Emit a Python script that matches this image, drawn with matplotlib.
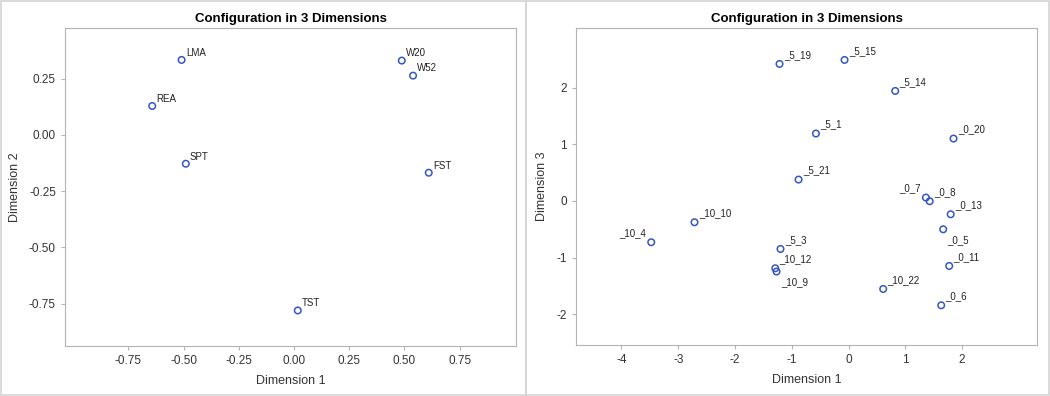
import matplotlib.pyplot as plt
from matplotlib.patches import Rectangle

# left panel: dimension 1 vs dimension 2
labels_a = ["LMA", "W20", "W52", "REA", "SPT", "FST", "TST"]
dim1_a = [-0.509, 0.488, 0.539, -0.642, -0.490, 0.610, 0.017]
dim2_a = [0.334, 0.331, 0.264, 0.129, -0.128, -0.168, -0.781]

# right panel: dimension 1 vs dimension 3
labels_b = ["_5_19", "_5_15", "_5_14", "_5_1", "_0_20", "_5_21", "_0_7", "_0_8",
            "_0_13", "_0_5", "_10_10", "_10_4", "_5_3", "_10_12", "_10_9",
            "_0_11", "_10_22", "_0_6"]
dim1_b = [-1.215, -0.07, 0.823, -0.574, 1.85, -0.88, 1.363, 1.43,
          1.80, 1.668, -2.713, -3.475, -1.198, -1.29, -1.268,
          1.774, 0.611, 1.633]
dim3_b = [2.416, 2.487, 1.94, 1.189, 1.10, 0.377, 0.06, -0.005,
          -0.235, -0.50, -0.376, -0.728, -0.847, -1.187, -1.245,
          -1.146, -1.552, -1.84]
# label placement: 'ur' upper right, 'ul' upper left, 'lr' lower right
pos_b = ["ur", "ur", "ur", "ur", "ur", "ur", "ul", "ur",
         "ur", "lr", "ur", "ul", "ur", "ur", "lr",
         "ur", "ur", "ur"]

ticks_a_x = [-0.75, -0.5, -0.25, 0.0, 0.25, 0.5, 0.75]
ticks_a_y = [-0.75, -0.5, -0.25, 0.0, 0.25]
ticks_b_x = [-4, -3, -2, -1, 0, 1, 2]
ticks_b_y = [-2, -1, 0, 1, 2]

plt.rcParams['font.family'] = ['Liberation Sans', 'DejaVu Sans']
plt.rcParams['axes.unicode_minus'] = False

fig = plt.figure(figsize=(10.5, 3.96), dpi=100)
ax1 = fig.add_axes([0.0619, 0.1263, 0.4295, 0.803])
ax2 = fig.add_axes([0.5486, 0.1288, 0.439, 0.8005])

# panel borders
fig.patches.append(Rectangle((0.001, 0.002), 0.4995, 0.996, transform=fig.transFigure,
                             fill=False, edgecolor="#d4d4d4", linewidth=1.2))
fig.patches.append(Rectangle((0.5005, 0.002), 0.4985, 0.996, transform=fig.transFigure,
                             fill=False, edgecolor="#d4d4d4", linewidth=1.2))

blue = "#3356c4"
offsets = {"ur": (3, 3, "left", "bottom"), "ul": (-4, 3, "right", "bottom"),
           "lr": (3, -4, "left", "top")}


def style(ax, ylab):
    for s in ax.spines.values():
        s.set_color("#b3b3b3")
    ax.tick_params(colors="#b3b3b3", labelcolor="#333333", labelsize=8.5, length=3)
    ax.set_title("Configuration in 3 Dimensions", fontsize=9.5, fontweight="bold", pad=4.5)
    ax.set_xlabel("Dimension 1", fontsize=9, color="#333333", labelpad=6)
    ax.set_ylabel(ylab, fontsize=9, color="#333333", labelpad=6)


ax1.scatter(dim1_a, dim2_a, s=22, facecolors="none", edgecolors=blue, linewidths=1.1)
for x, y, t in zip(dim1_a, dim2_a, labels_a):
    ax1.annotate(t, (x, y), xytext=(3, 3), textcoords="offset points",
                 fontsize=7, color="#222222")
ax1.set_xlim(-1.037, 1.005)
ax1.set_ylim(-0.939, 0.476)
ax1.set_xticks(ticks_a_x)
ax1.set_yticks(ticks_a_y)
ax1.set_xticklabels([f"{v:.2f}" for v in ticks_a_x])
ax1.set_yticklabels([f"{v:.2f}" for v in ticks_a_y])
style(ax1, "Dimension 2")

ax2.scatter(dim1_b, dim3_b, s=22, facecolors="none", edgecolors=blue, linewidths=1.1)
for x, y, t, p in zip(dim1_b, dim3_b, labels_b, pos_b):
    dx, dy, ha, va = offsets[p]
    ax2.annotate(t, (x, y), xytext=(dx, dy), textcoords="offset points",
                 fontsize=7, color="#222222", ha=ha, va=va)
ax2.set_xlim(-4.80, 3.32)
ax2.set_ylim(-2.54, 3.05)
ax2.set_xticks(ticks_b_x)
ax2.set_yticks(ticks_b_y)
style(ax2, "Dimension 3")

fig.savefig("out.png", dpi=100)
